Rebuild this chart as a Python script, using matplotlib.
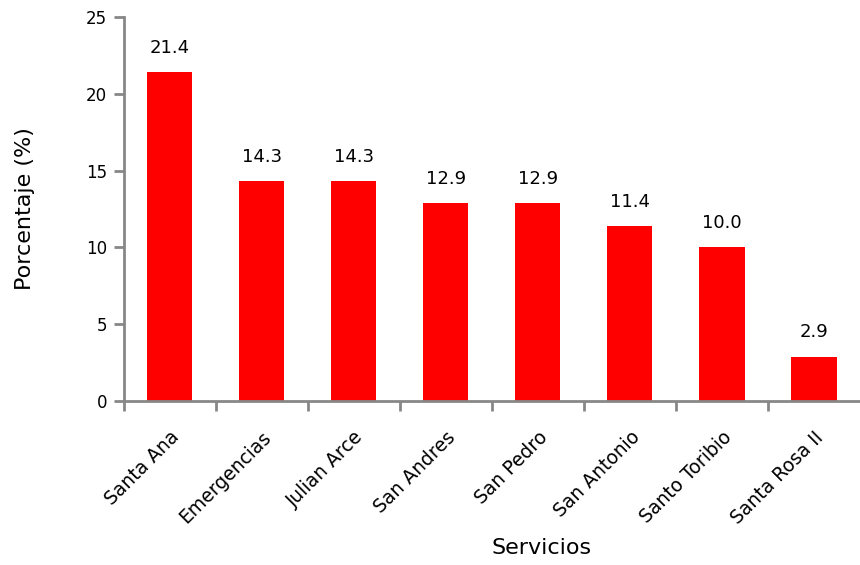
import numpy as np
from matplotlib import pyplot as plt
from matplotlib.transforms import ScaledTranslation

servicios = ['Santa Ana', 'Emergencias', 'Julian Arce', 'San Andres', 'San Pedro',
             'San Antonio', 'Santo Toribio', 'Santa Rosa II']
porcentaje = [21.4, 14.3, 14.3, 12.9, 12.9, 11.4, 10.0, 2.9]
y_ticks = [0, 5, 10, 15, 20, 25]

gray = '#878787'

fig = plt.figure(figsize=(8.6, 5.65), dpi=100)
ax = fig.add_axes([0.144, 0.29, 0.856, 0.68])

x = np.arange(len(servicios))
bars = ax.bar(x, porcentaje, width=0.49, color='#ff0000')
for b, v in zip(bars, porcentaje):
    ax.annotate(f'{v:.1f}', (b.get_x() + b.get_width() / 2, v),
                xytext=(0, 11), textcoords='offset points',
                ha='center', va='bottom', fontsize=13)

ax.set_xlim(-0.5, len(servicios) - 0.5)
ax.set_ylim(0, 25)
ax.set_yticks(y_ticks)
ax.set_xticks(x)
ax.set_xticklabels(servicios, rotation=45, ha='right', rotation_mode='anchor', fontsize=13.5)
# nudge rotated labels a little to the right
shift = ScaledTranslation(6 / 72, 0, fig.dpi_scale_trans)
for lbl in ax.get_xticklabels():
    lbl.set_transform(lbl.get_transform() + shift)
ax.set_xticks(np.arange(len(servicios)) - 0.5, minor=True)
ax.tick_params(axis='x', which='major', length=0, pad=19)
ax.tick_params(axis='x', which='minor', length=7, width=2, color=gray)
ax.tick_params(axis='y', length=7, width=2, color=gray, labelsize=12, pad=5)

for s in ['top', 'right']:
    ax.spines[s].set_visible(False)
for s in ['left', 'bottom']:
    ax.spines[s].set_color(gray)
    ax.spines[s].set_linewidth(2)

ax.set_ylabel('Porcentaje (%)', fontsize=16)
ax.yaxis.set_label_coords(-0.121, 0.5)
ax.set_xlabel('Servicios', fontsize=16)
ax.xaxis.set_label_coords(0.567, -0.355)

fig.savefig('out.png', dpi=100)
